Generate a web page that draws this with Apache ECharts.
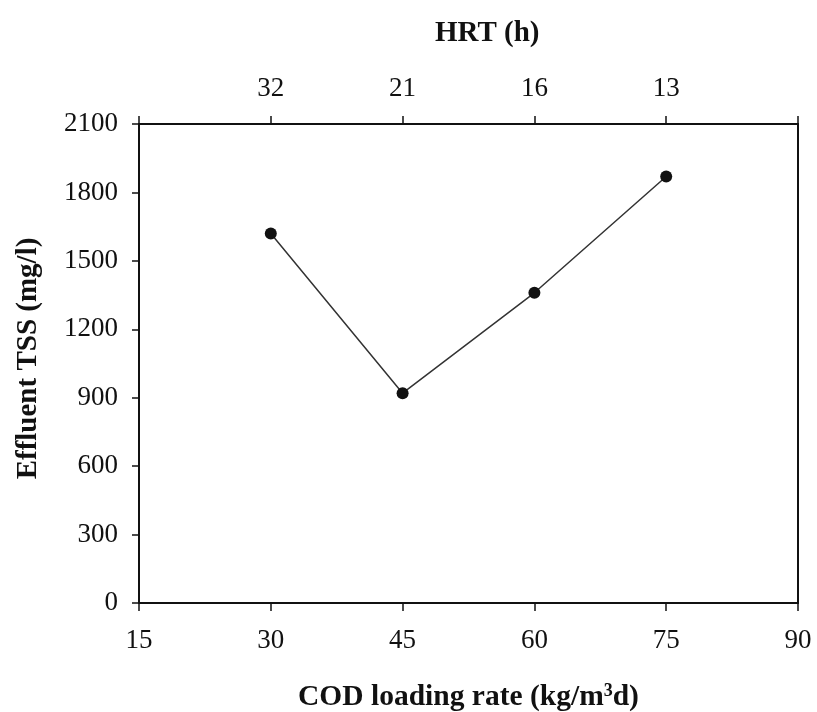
<!DOCTYPE html>
<html>
<head>
<meta charset="utf-8">
<script src="https://cdn.jsdelivr.net/npm/echarts@6/dist/echarts.min.js"></script>
<style>html,body{margin:0;padding:0;background:#fff;}#c{width:817px;height:712px;}</style>
</head>
<body>
<div id="c"></div>
<script>
const codLoading = [30, 45, 60, 75];
const effluentTSS = [1620, 920, 1360, 1870];
const hrtLabels = ['32', '21', '16', '13'];
const xTicks = [15, 30, 45, 60, 75, 90];
const yTicks = [0, 300, 600, 900, 1200, 1500, 1800, 2100];

const FONT = 'Liberation Serif';
const chart = echarts.init(document.getElementById('c'));
const axisLineStyle = { color: '#111', width: 2 };

chart.setOption({
  backgroundColor: '#fff',
  animation: false,
  title: {
    text: 'HRT (h)',
    left: 430,
    top: 14,
    textStyle: { fontFamily: FONT, fontWeight: 'bold', fontSize: 29, color: '#111' }
  },
  grid: { left: 139, right: 19, top: 124, bottom: 109, containLabel: false, outerBoundsMode: 'none' },
  xAxis: [
    {
      type: 'value', position: 'bottom',
      min: xTicks[0], max: xTicks[xTicks.length - 1], interval: 15,
      axisLine: { show: true, onZero: false, lineStyle: axisLineStyle },
      axisTick: { show: true, inside: false, length: 8, lineStyle: { color: '#111', width: 1.5 } },
      axisLabel: { fontFamily: FONT, fontSize: 27, color: '#111', margin: 24 },
      splitLine: { show: false },
      name: '{a|COD loading rate (kg/m}{s|3}{a|d)}',
      nameLocation: 'middle',
      nameGap: 79,
      nameTextStyle: {
        rich: {
          a: { fontFamily: FONT, fontWeight: 'bold', fontSize: 29.5, color: '#111' },
          s: { fontFamily: FONT, fontWeight: 'bold', fontSize: 18, color: '#111', verticalAlign: 'top', padding: [0, 0, 12, 0] }
        }
      }
    },
    {
      type: 'value', position: 'top',
      min: xTicks[0], max: xTicks[xTicks.length - 1], interval: 15,
      axisLine: { show: true, onZero: false, lineStyle: axisLineStyle },
      axisTick: { show: true, inside: false, length: 8, lineStyle: { color: '#111', width: 1.5 } },
      axisLabel: {
        fontFamily: FONT, fontSize: 27, color: '#111', margin: 22,
        formatter: function (v) {
          const i = codLoading.indexOf(v);
          return i >= 0 ? hrtLabels[i] : '';
        }
      },
      splitLine: { show: false }
    }
  ],
  yAxis: [
    {
      type: 'value', position: 'left',
      min: yTicks[0], max: yTicks[yTicks.length - 1], interval: 300,
      axisLine: { show: true, onZero: false, lineStyle: axisLineStyle },
      axisTick: { show: true, inside: false, length: 7, lineStyle: { color: '#111', width: 1.5 } },
      axisLabel: { fontFamily: FONT, fontSize: 27, color: '#111', margin: 21, formatter: function (v) { return String(v); } },
      splitLine: { show: false },
      name: 'Effluent TSS (mg/l)',
      nameLocation: 'middle',
      nameGap: 96,
      nameTextStyle: { fontFamily: FONT, fontWeight: 'bold', fontSize: 29, color: '#111', padding: [0, 0, 0, 10] }
    },
    {
      type: 'value', position: 'right',
      min: yTicks[0], max: yTicks[yTicks.length - 1], interval: 300,
      axisLine: { show: true, onZero: false, lineStyle: axisLineStyle },
      axisTick: { show: false },
      axisLabel: { show: false },
      splitLine: { show: false }
    }
  ],
  series: [{
    type: 'line',
    xAxisIndex: 0, yAxisIndex: 0,
    data: codLoading.map((x, i) => [x, effluentTSS[i]]),
    symbol: 'circle',
    symbolSize: 12,
    itemStyle: { color: '#111' },
    lineStyle: { color: '#333', width: 1.5 }
  }]
});
</script>
</body>
</html>
